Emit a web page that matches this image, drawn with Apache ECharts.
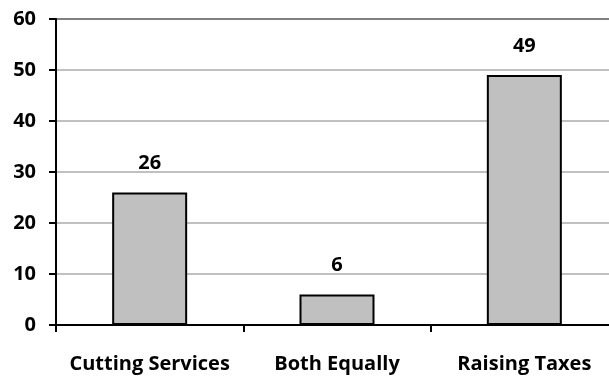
<!DOCTYPE html>
<html><head><meta charset="utf-8">
<script src="https://cdn.jsdelivr.net/npm/echarts@6/dist/echarts.min.js"></script>
<style>html,body{margin:0;padding:0;background:#fff;overflow:hidden}#c{width:630px;height:378px}</style>
</head><body><div id="c"></div>
<script>
const categories = ['Cutting Services', 'Both Equally', 'Raising Taxes'];
const values = [26, 6, 49];
const yTicks = [0, 10, 20, 30, 40, 50, 60];

const chart = echarts.init(document.getElementById('c'), null, {renderer: 'canvas'});
const font = 'Open Sans';
chart.setOption({
  animation: false,
  grid: {left: 56, top: 19, width: 562, height: 306, containLabel: false},
  xAxis: {
    type: 'category', data: categories,
    axisLine: {lineStyle: {color: '#000', width: 2}},
    axisTick: {show: true, length: 7, lineStyle: {color: '#000', width: 2}},
    axisLabel: {interval: 0, margin: 29, color: '#000', fontFamily: font, fontWeight: 'bold', fontSize: 20}
  },
  yAxis: {
    type: 'value', min: yTicks[0], max: yTicks[yTicks.length - 1], interval: 10,
    axisLine: {show: true, lineStyle: {color: '#000', width: 2}},
    axisTick: {show: true, length: 7, lineStyle: {color: '#000', width: 2}},
    axisLabel: {margin: 20, color: '#000', fontFamily: font, fontWeight: 'bold', fontSize: 20},
    splitLine: {show: true, lineStyle: {color: ['#c0c0c0','#c0c0c0','#c0c0c0','#c0c0c0','#c0c0c0','#c0c0c0','#808080'], width: 2}}
  },
  series: [{
    type: 'bar', data: values, barWidth: 75,
    itemStyle: {color: '#c0c0c0', borderColor: '#000', borderWidth: 2},
    label: {show: true, position: 'top', distance: 19, color: '#000', fontFamily: font, fontWeight: 'bold', fontSize: 20}
  }]
});
</script></body></html>
